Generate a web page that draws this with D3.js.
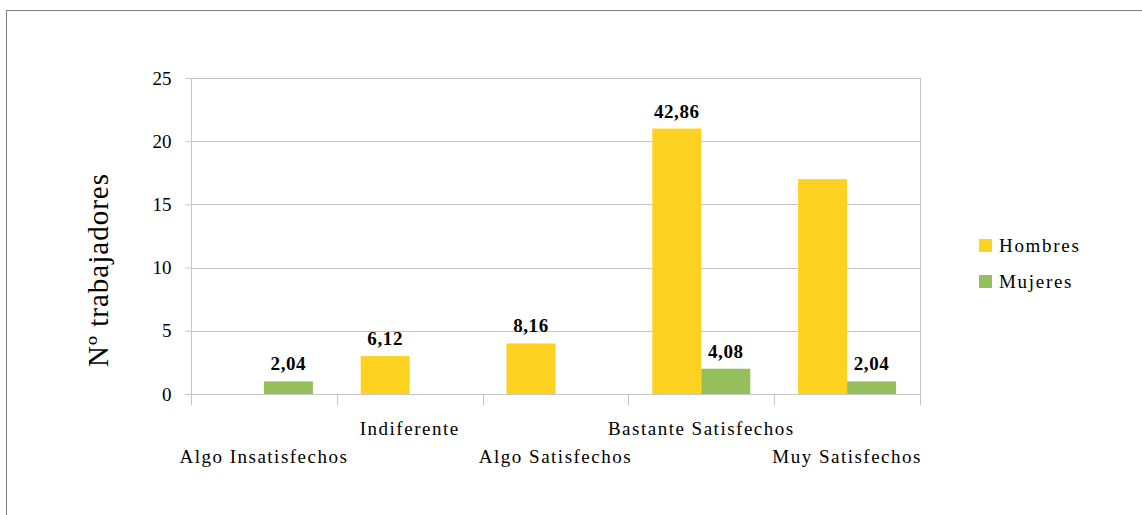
<!DOCTYPE html>
<html>
<head>
<meta charset="utf-8">
<script src="https://cdn.jsdelivr.net/npm/d3@7"></script>
<style>
  html, body { margin: 0; padding: 0; background: #fff; }
  svg { display: block; }
  svg text { font-family: "Liberation Serif", "Times New Roman", serif !important; fill: #000; }
</style>
</head>
<body>
<svg id="chart" width="1142" height="515"></svg>
<script>
// Satisfacción de los trabajadores por sexo (nº de trabajadores)
const categories = ["Algo Insatisfechos", "Indiferente", "Algo Satisfechos", "Bastante Satisfechos", "Muy Satisfechos"];
const seriesNames = ["Hombres", "Mujeres"];
const hombres = [0, 3, 4, 21, 17];
const mujeres = [1, 0, 0, 2, 1];
// which bars carry a percentage label
const showHombres = [false, true, true, true, false];
const showMujeres = [true, false, false, true, true];
const yTicks = [0, 5, 10, 15, 20, 25];
const colors = ["#FDD220", "#95BE5C"];

const total = d3.sum(hombres) + d3.sum(mujeres);
const pct = v => (v / total * 100).toFixed(2).replace(".", ",");

const svg = d3.select("#chart");
const plot = { left: 191, right: 920, top: 78, bottom: 394 };
const serif = "Liberation Serif";

// outer frame
svg.append("rect")
  .attr("x", 6.5).attr("y", 10.5).attr("width", 1200).attr("height", 600)
  .attr("fill", "none").attr("stroke", "#7f7f7f").attr("stroke-width", 1);

const x = d3.scaleBand().domain(categories).range([plot.left, plot.right]);
const y = d3.scaleLinear().domain([0, 25]).range([plot.bottom, plot.top]);
const barW = 49;

// gridlines
svg.append("g").selectAll("line").data(yTicks.filter(t => t > 0)).join("line")
  .attr("x1", plot.left).attr("x2", plot.right)
  .attr("y1", d => Math.round(y(d)) + 0.5).attr("y2", d => Math.round(y(d)) + 0.5)
  .attr("stroke", "#c6c6c6").attr("stroke-width", 1);

// right border of plot area
svg.append("line")
  .attr("x1", plot.right + 0.5).attr("x2", plot.right + 0.5)
  .attr("y1", plot.top).attr("y2", plot.bottom + 11)
  .attr("stroke", "#c6c6c6");

// y axis
const yAxis = svg.append("g")
  .attr("transform", `translate(${plot.left + 0.5},0)`)
  .call(d3.axisLeft(y).tickValues(yTicks).tickSize(6).tickPadding(14).tickFormat(d3.format("d")));
yAxis.attr("font-family", serif);
yAxis.select(".domain").attr("stroke", "#c6c6c6").attr("d", `M0,${plot.top}V${plot.bottom}`);
yAxis.selectAll(".tick line").attr("stroke", "#c6c6c6");
yAxis.selectAll(".tick text").attr("font-size", 19).attr("font-family", serif).attr("fill", "#000");

// x axis baseline and category separators
const bounds = categories.map(c => x(c)).concat([plot.right]);
svg.append("line")
  .attr("x1", plot.left).attr("x2", plot.right)
  .attr("y1", plot.bottom + 0.5).attr("y2", plot.bottom + 0.5)
  .attr("stroke", "#c6c6c6");
svg.append("g").selectAll("line").data(bounds).join("line")
  .attr("x1", d => Math.round(d) + 0.5).attr("x2", d => Math.round(d) + 0.5)
  .attr("y1", plot.bottom).attr("y2", plot.bottom + 11)
  .attr("stroke", "#c6c6c6");

// category labels, staggered on two rows
svg.append("g").selectAll("text").data(categories).join("text")
  .attr("x", d => x(d) + x.bandwidth() / 2)
  .attr("y", (d, i) => i % 2 === 0 ? 463 : 435)
  .attr("text-anchor", "middle")
  .attr("font-family", serif)
  .attr("font-size", 19)
  .attr("letter-spacing", 1.5)
  .text(d => d);

// bars
const rows = categories.map((c, i) => ({ c, i, vals: [hombres[i], mujeres[i]], show: [showHombres[i], showMujeres[i]] }));
const groups = svg.append("g").selectAll("g").data(rows).join("g");
groups.each(function(r) {
  const g = d3.select(this);
  const cx = x(r.c) + x.bandwidth() / 2;
  r.vals.forEach((v, s) => {
    if (v <= 0) return;
    const bx = cx + (s === 0 ? -barW : 0);
    g.append("rect")
      .attr("x", bx).attr("y", y(v))
      .attr("width", barW).attr("height", y(0) - y(v))
      .attr("fill", colors[s]);
    if (r.show[s]) {
      g.append("text")
        .attr("x", bx + barW / 2).attr("y", y(v) - 11)
        .attr("text-anchor", "middle")
        .attr("font-family", serif)
        .attr("font-size", 19).attr("font-weight", "bold")
        .attr("letter-spacing", 0.6)
        .text(pct(v));
    }
  });
});

// y axis title
svg.append("text")
  .attr("transform", "translate(108,270) rotate(-90)")
  .attr("text-anchor", "middle")
  .attr("font-family", serif)
  .attr("font-size", 29)
  .attr("letter-spacing", 1)
  .text("Nº trabajadores");

// legend
const legend = svg.append("g").selectAll("g").data(seriesNames).join("g")
  .attr("transform", (d, i) => `translate(979,${239 + i * 36})`);
legend.append("rect").attr("width", 13).attr("height", 13).attr("fill", (d, i) => colors[i]);
legend.append("text").attr("x", 20).attr("y", 13)
  .attr("font-family", serif)
  .attr("font-size", 19).attr("letter-spacing", 1.7).text(d => d);
</script>
</body>
</html>
